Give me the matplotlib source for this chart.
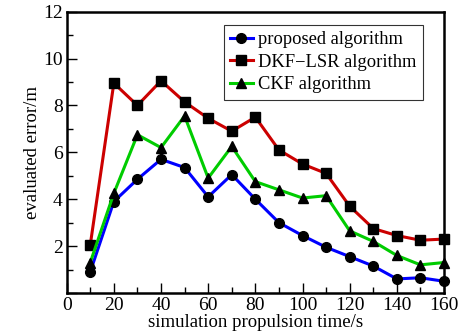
import matplotlib.pyplot as plt
from matplotlib.ticker import MultipleLocator

plt.rcParams['font.family'] = ['Liberation Serif', 'DejaVu Serif']

# simulation time (s)
t = [10, 20, 30, 40, 50, 60, 70, 80, 90, 100, 110, 120, 130, 140, 150, 160]

proposed = [0.9, 3.9, 4.85, 5.7, 5.35, 4.1, 5.05, 4.0, 3.0, 2.45, 1.95, 1.55, 1.15, 0.6, 0.65, 0.5]
dkf_lsr = [2.05, 8.95, 8.0, 9.05, 8.15, 7.45, 6.9, 7.5, 6.1, 5.5, 5.1, 3.7, 2.75, 2.45, 2.25, 2.3]
ckf = [1.3, 4.25, 6.75, 6.2, 7.55, 4.9, 6.25, 4.75, 4.4, 4.05, 4.15, 2.65, 2.2, 1.6, 1.2, 1.3]

fig = plt.figure(figsize=(4.63, 3.32), dpi=100)
ax = fig.add_axes([0.144, 0.1175, 0.815, 0.8475])

ax.plot(t, proposed, color='#0000ff', lw=2.2, marker='o', ms=7, mfc='black', mec='black',
        label='proposed algorithm', clip_on=False, zorder=3)
ax.plot(t, dkf_lsr, color='#cc0000', lw=2.2, marker='s', ms=6.5, mfc='black', mec='black',
        label='DKF\u2212LSR algorithm', clip_on=False, zorder=3)
ax.plot(t, ckf, color='#00cc00', lw=2.2, marker='^', ms=7.5, mfc='black', mec='black',
        label='CKF algorithm', clip_on=False, zorder=3)

ax.set_xlim(0, 160)
ax.set_ylim(0, 12)
ax.xaxis.set_major_locator(MultipleLocator(20))
ax.xaxis.set_minor_locator(MultipleLocator(10))
ax.yaxis.set_minor_locator(MultipleLocator(1))
ax.set_yticks([0, 2, 4, 6, 8, 10, 12])
ax.set_yticklabels(['', '2', '4', '6', '8', '10', '12'])
ax.tick_params(which='both', direction='in', labelsize=14, top=False, right=False)
ax.tick_params(which='major', length=7, width=1, pad=3)
ax.tick_params(which='minor', length=4, width=1)
for s in ax.spines.values():
    s.set_linewidth(1.8)

ax.set_xlabel('simulation propulsion time/s', fontsize=13.5, labelpad=0)
ax.set_ylabel('evaluated error/m', fontsize=13.5, labelpad=1)

leg = ax.legend(loc='upper right', fontsize=13.3, frameon=True, fancybox=False,
                edgecolor='black', handlelength=1.2, handletextpad=0.3,
                borderpad=0.35, labelspacing=0.3, borderaxespad=0,
                bbox_to_anchor=(0.944, 0.954))
leg.get_frame().set_linewidth(0.8)

fig.savefig('out.png', dpi=100)
